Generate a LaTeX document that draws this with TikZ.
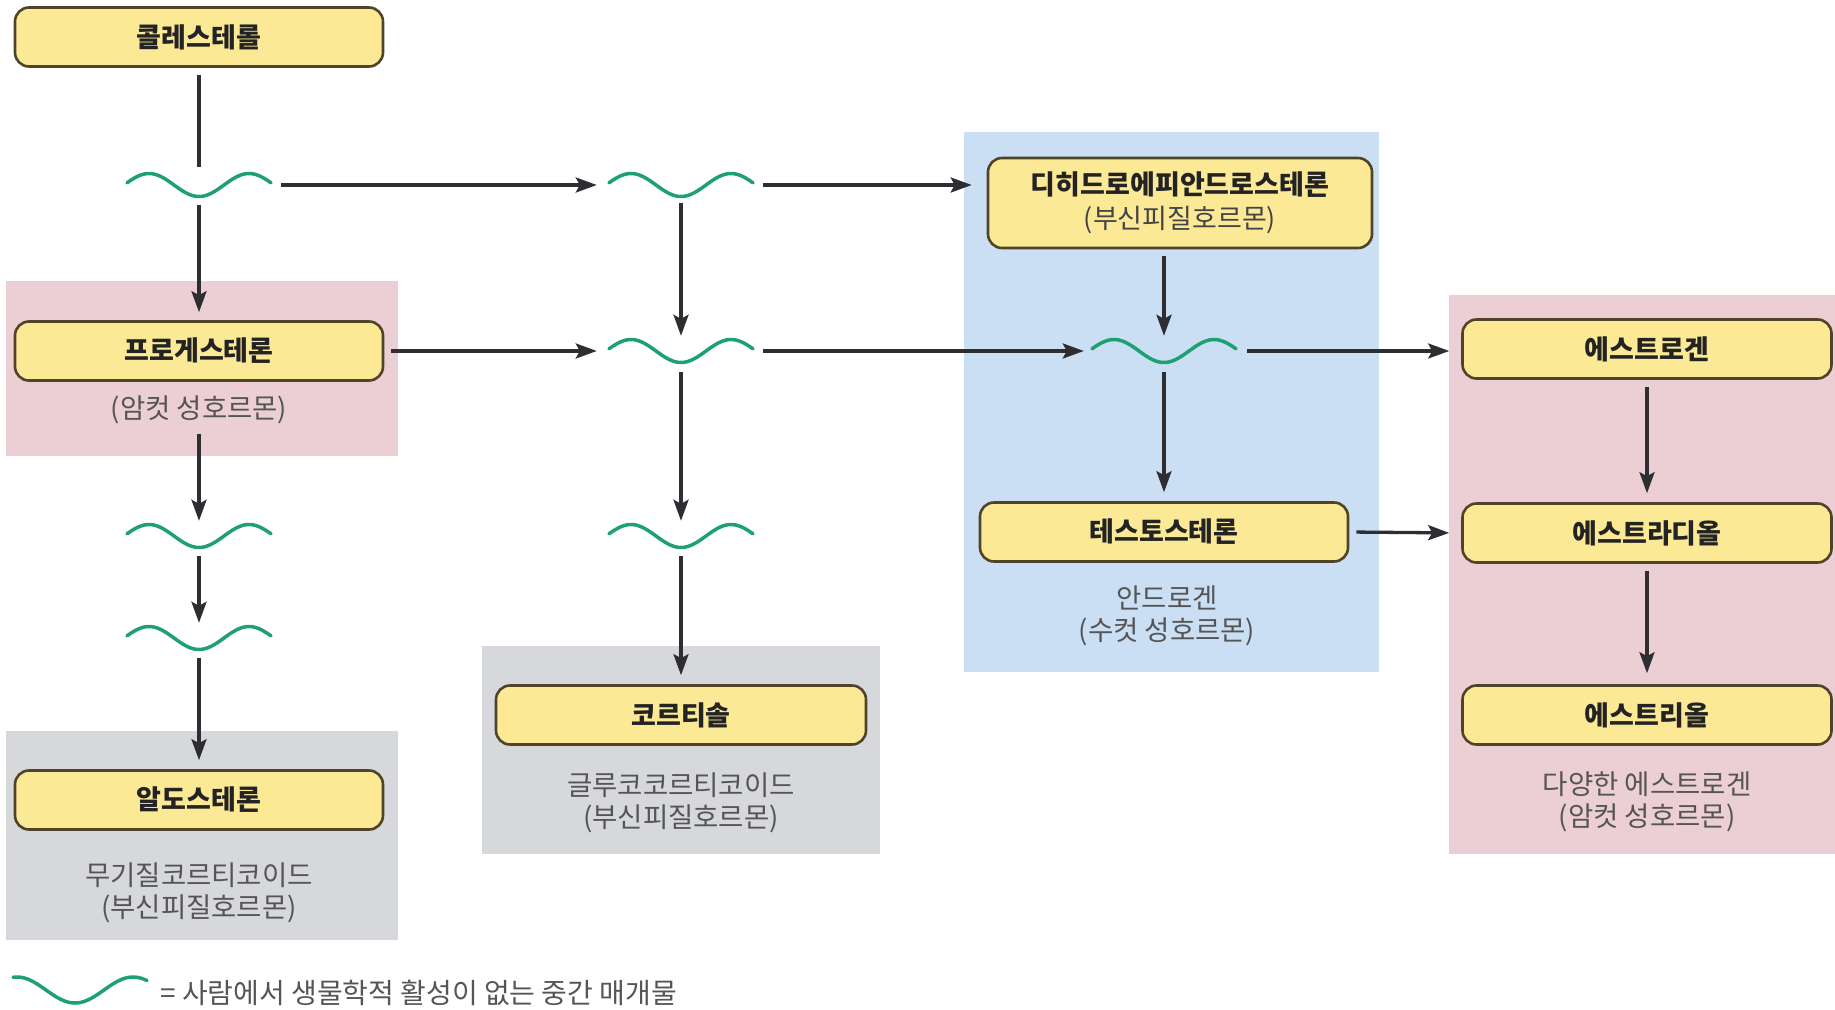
\documentclass[tikz,border=0pt]{standalone}
\usepackage{fontspec}
\setmainfont{Noto Sans CJK KR}
\usetikzlibrary{arrows.meta}
\definecolor{boxfill}{RGB}{252,233,150}
\definecolor{boxdraw}{RGB}{80,68,40}
\definecolor{pinkbg}{RGB}{236,206,213}
\definecolor{bluebg}{RGB}{202,222,244}
\definecolor{graybg}{RGB}{214,216,220}
\definecolor{wavegreen}{RGB}{30,160,115}
\definecolor{linec}{RGB}{45,45,50}
\definecolor{subtext}{RGB}{85,85,85}
\definecolor{labeltext}{RGB}{35,35,35}
\begin{document}
\begin{tikzpicture}[x=1pt,y=-1pt,
 hbox/.style={draw=boxdraw, line width=2.6pt, fill=boxfill, rounded corners=14pt,
   minimum width=368pt, minimum height=59pt, inner sep=0pt,
   font=\fontsize{27}{34}\selectfont\bfseries, text=labeltext, align=center},
 sub/.style={font=\fontsize{27.5}{32}\selectfont, text=subtext, align=center, inner sep=0pt},
 wv/.style={minimum width=146pt, minimum height=26pt, inner sep=0pt},
 wavec/.style={draw=wavegreen, line width=3.5pt, line cap=round},
 arr/.style={draw=linec, line width=3.3pt, -{Stealth[length=21pt,width=15pt,inset=4pt]}},
 ln/.style={draw=linec, line width=3.3pt},
]
\useasboundingbox (0,0) rectangle (1835,1009);

% background panels
\fill[pinkbg] (6,281) rectangle (398,456);
\fill[graybg] (6,731) rectangle (398,940);
\fill[graybg] (482,646) rectangle (880,854);
\fill[bluebg] (964,132) rectangle (1379,672);
\fill[pinkbg] (1449,295) rectangle (1835,854);

% hormone boxes
\node[hbox] (chol) at (199,37) {콜레스테롤};
\node[hbox] (prog) at (199,351) {프로게스테론};
\node[hbox] (aldo) at (199,800) {알도스테론};
\node[hbox, minimum width=370pt] (cort) at (681,715) {코르티솔};
\node[hbox, minimum width=384pt, minimum height=90pt] (dhea) at (1180,203)
  {디히드로에피안드로스테론\\{\mdseries\color{subtext!80!black}(부신피질호르몬)}};
\node[hbox] (testo) at (1164,532) {테스토스테론};
\node[hbox, minimum width=369pt] (estrogen) at (1647,349) {에스트로겐};
\node[hbox, minimum width=369pt] (estradiol) at (1647,533) {에스트라디올};
\node[hbox, minimum width=369pt] (estriol) at (1647,715) {에스트리올};

% subtitles
\node[sub] (progsub) at (199,410) {(암컷 성호르몬)};
\node[sub] (aldosub) at (199,893) {무기질코르티코이드\\(부신피질호르몬)};
\node[sub] (cortsub) at (681,803) {글루코코르티코이드\\(부신피질호르몬)};
\node[sub] (testosub) at (1167,616) {안드로겐\\(수컷 성호르몬)};
\node[sub] (estrsub) at (1647,802) {다양한 에스트로겐\\(암컷 성호르몬)};

% intermediate (wave) nodes
\node[wv] (w1) at (199,185) {};
\node[wv] (w2) at (681,185) {};
\node[wv] (w3) at (681,351) {};
\node[wv] (w4) at (1164,351) {};
\node[wv] (w5) at (199,536) {};
\node[wv] (w6) at (199,638) {};
\node[wv] (w7) at (681,536) {};
\node[wv, minimum width=122pt] (wl) at (75,990) {};
\foreach \w in {w1,w2,w3,w4,w5,w6,w7}
  \draw[wavec, shift={(\w.center)}] plot[domain=-72:72, samples=60, smooth] (\x, {11.5*cos(180*\x/50)});
\draw[wavec, shift={(wl.center)}] plot[domain=-62:72, samples=60, smooth] (\x, {13*cos(180*\x/58)});

% legend text
\node[anchor=west, inner sep=0pt, font=\fontsize{28}{32}\selectfont, text=subtext] (legtxt) at (160,993)
  {= 사람에서 생물학적 활성이 없는 중간 매개물};

% connectors
\draw[ln, shorten <=7pt, shorten >=5pt] (chol.south) -- (w1.north);
\draw[arr, shorten <=7pt, shorten >=8pt] (w1.south) -- (prog.north);
\draw[arr, shorten <=9pt, shorten >=11pt] (w1.east) -- (w2.west);
\draw[arr, shorten <=9pt, shorten >=15pt] (w2.east) -- (w2.east -| dhea.west);
\draw[arr, shorten <=5pt, shorten >=2pt] (w2.south) -- (w3.north);
\draw[arr, shorten <=7pt, shorten >=11pt] (prog.east) -- (w3.west);
\draw[arr, shorten <=9pt, shorten >=7pt] (w3.east) -- (w4.west);
\draw[arr, shorten <=10pt, shorten >=12pt] (w4.east) -- (w4.east -| estrogen.west);
\draw[arr, shorten <=7pt, shorten >=2pt] (w4.north |- dhea.south) -- (w4.north);
\draw[arr, shorten <=8pt, shorten >=9pt] (w4.south) -- (testo.north);
\draw[arr, shorten <=7pt, shorten >=12pt] (testo.east) -- (estradiol.west);
\draw[arr, shorten <=8pt, shorten >=2pt] (w3.south) -- (w7.north);
\draw[arr, shorten <=7pt, shorten >=9pt] (w7.south) -- (cort.north);
\draw[arr, shorten <=10pt, shorten >=2pt] (progsub.south) -- (w5.north);
\draw[arr, shorten <=7pt, shorten >=2pt] (w5.south) -- (w6.north);
\draw[arr, shorten <=7pt, shorten >=9pt] (w6.south) -- (aldo.north);
\draw[arr, shorten <=7pt, shorten >=9pt] (estrogen.south) -- (estradiol.north);
\draw[arr, shorten <=7pt, shorten >=11pt] (estradiol.south) -- (estriol.north);
\end{tikzpicture}
\end{document}
